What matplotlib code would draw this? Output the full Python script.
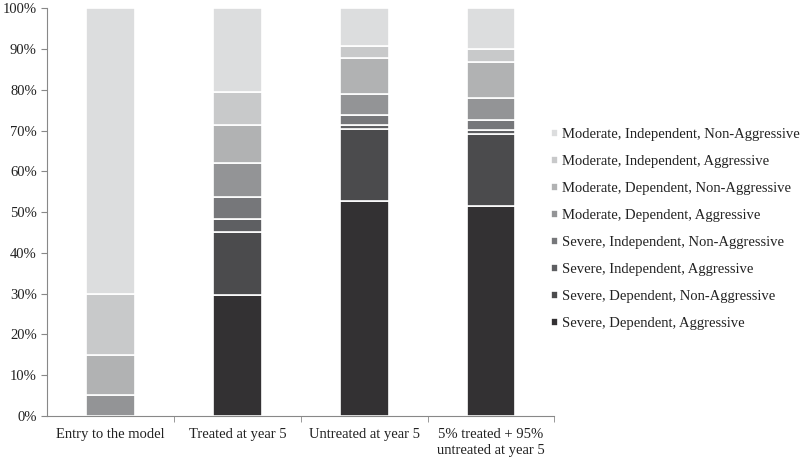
import matplotlib
matplotlib.use("Agg")
import matplotlib.pyplot as plt
import numpy as np
from matplotlib.ticker import FuncFormatter

plt.rcParams['font.family'] = ['Liberation Serif', 'DejaVu Serif']

categories = ["Entry to the model", "Treated at year 5", "Untreated at year 5",
              "5% treated + 95%\nuntreated at year 5"]
series_names = [
    "Severe, Dependent, Aggressive",
    "Severe, Dependent, Non-Aggressive",
    "Severe, Independent, Aggressive",
    "Severe, Independent, Non-Aggressive",
    "Moderate, Dependent, Aggressive",
    "Moderate, Dependent, Non-Aggressive",
    "Moderate, Independent, Aggressive",
    "Moderate, Independent, Non-Aggressive",
]
sda = [0.0, 29.7, 52.7, 51.6]
sdn = [0.0, 15.3, 17.7, 17.5]
sia = [0.0, 3.2, 0.9, 1.1]
sin_ = [0.0, 5.6, 2.5, 2.45]
mda = [5.0, 8.3, 5.2, 5.25]
mdn = [10.0, 9.15, 8.8, 8.9]
mia = [15.0, 8.25, 3.0, 3.2]
min_ = [70.0, 20.5, 9.2, 10.0]
series_values = [sda, sdn, sia, sin_, mda, mdn, mia, min_]
colors = ["#333133", "#4b4b4d", "#5e5f62", "#76777a",
          "#939496", "#b1b2b3", "#c8c9ca", "#dcddde"]

FS = 10.5
fig = plt.figure(figsize=(8, 4.58), dpi=100)
ax = fig.add_axes([0.059, 0.092, 0.634, 0.89])

x = np.arange(len(categories))
bottom = np.zeros(len(categories))
handles = []
for name, vals, c in zip(series_names, series_values, colors):
    v = np.array(vals)
    b = ax.bar(x, v, width=0.385, bottom=bottom, color=c, edgecolor="white",
               linewidth=1.2, label=name)
    handles.append(b)
    bottom += v

ax.set_xlim(-0.5, 3.5)
ax.set_ylim(0, 100)
ax.set_yticks(np.arange(0, 101, 10))
ax.yaxis.set_major_formatter(FuncFormatter(lambda v, p: f"{int(v)}%"))
ax.set_xticks(x)
ax.set_xticklabels(categories, fontsize=FS, color="#222222", linespacing=1.25)
ax.set_xticks([0.5, 1.5, 2.5, 3.5], minor=True)
ax.tick_params(axis="x", which="major", length=0, pad=9)
ax.tick_params(axis="x", which="minor", length=4, color="#888888", direction="out")
ax.tick_params(axis="y", length=4, color="#888888", labelsize=FS, labelcolor="#222222")
for s in ["top", "right"]:
    ax.spines[s].set_visible(False)
for s in ["left", "bottom"]:
    ax.spines[s].set_color("#888888")

leg = fig.legend(handles[::-1], series_names[::-1], loc="center left",
                 bbox_to_anchor=(0.672, 0.5), frameon=False, fontsize=FS,
                 handlelength=0.5, handleheight=0.5, handletextpad=0.3,
                 labelspacing=0.96)
for t in leg.get_texts():
    t.set_color("#222222")

fig.savefig("out.png", dpi=100)
